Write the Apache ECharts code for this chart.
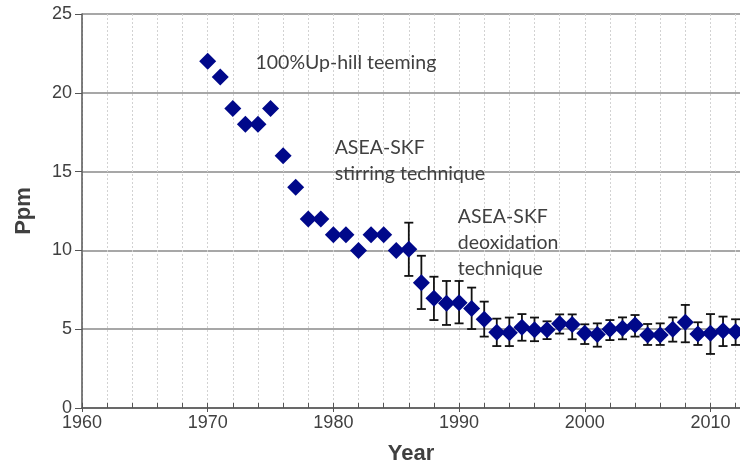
<!DOCTYPE html>
<html>
<head>
<meta charset="utf-8">
<script src="https://cdn.jsdelivr.net/npm/echarts@6/dist/echarts.min.js"></script>
<style>
html,body{margin:0;padding:0;background:#fff;}
#chart{width:740px;height:466px;}
</style>
</head>
<body>
<div id="chart"></div>
<script>
// ---- data ----
const years = [1970,1971,1972,1973,1974,1975,1976,1977,1978,1979,1980,1981,1982,1983,1984,1985,
  1986,1987,1988,1989,1990,1991,1992,1993,1994,1995,1996,1997,1998,1999,2000,2001,2002,2003,2004,
  2005,2006,2007,2008,2009,2010,2011,2012];
const ppm = [22,21,19,18,18,19,16,14,12,12,11,11,10,11,11,10,
  10.07,7.95,6.96,6.64,6.68,6.32,5.63,4.8,4.78,5.12,4.97,4.97,5.35,5.3,4.74,4.67,5.0,5.06,5.27,
  4.63,4.63,4.99,5.44,4.7,4.74,4.9,4.84];
const errLow = [null,null,null,null,null,null,null,null,null,null,null,null,null,null,null,null,
  8.38,6.28,5.58,5.27,5.37,5.01,4.53,3.93,3.93,4.27,4.24,4.37,4.72,4.36,4.06,3.89,4.31,4.36,4.53,
  4.0,4.0,4.21,4.17,4.0,3.43,3.93,4.0];
const errHigh = [null,null,null,null,null,null,null,null,null,null,null,null,null,null,null,null,
  11.76,9.66,8.33,8.06,8.06,7.64,6.75,5.67,5.74,5.96,5.74,5.5,5.94,5.94,5.31,5.37,5.58,5.75,5.9,
  5.33,5.37,5.75,6.54,5.44,5.96,5.8,5.63];
const yTicks = [0,5,10,15,20,25];
const xLabelYears = [1960,1970,1980,1990,2000,2010];
const notes = [
  {lines:['100%Up-hill teeming'], at:[1973.8, 22]},
  {lines:['ASEA-SKF','stirring technique'], at:[1980.1, 16.6]},
  {lines:['ASEA-SKF','deoxidation','technique'], at:[1989.9, 12.2]}
];

const chart = echarts.init(document.getElementById('chart'), null, {renderer:'canvas'});
const grid = {left:82, top:14, right:0, bottom:58, outerBoundsMode:'none', containLabel:false};
const errData = [];
years.forEach((y,i)=>{ if(errLow[i]!=null) errData.push([y, errLow[i], errHigh[i]]); });
const scatterData = years.map((y,i)=>[y, ppm[i]]);
const labelColor = '#404040';

chart.setOption({
  animation:false,
  backgroundColor:'#fff',
  grid: grid,
  xAxis:[{
    type:'value', min:1960, max:2012.35, interval:2,
    name:'Year', nameLocation:'middle', nameGap:35,
    nameTextStyle:{fontFamily:'Liberation Sans', fontWeight:'bold', fontSize:22, color:labelColor},
    axisLine:{show:true, onZero:false, lineStyle:{color:'#555', width:1.5}},
    axisTick:{show:true, inside:true, length:5, lineStyle:{color:'#555', width:1}},
    axisLabel:{show:true, showMaxLabel:false, margin:6, fontFamily:'Liberation Sans', fontSize:18, color:labelColor,
      formatter:function(v){ return xLabelYears.indexOf(Math.round(v))>=0 && Math.abs(v-Math.round(v))<1e-6 ? String(Math.round(v)) : ''; }},
    splitLine:{show:true, lineStyle:{color:'#d2d2d2', type:[2,2], width:1}}
  },{
    type:'value', min:1960, max:2012.35, interval:10, position:'bottom', offset:0,
    axisLine:{show:false}, axisLabel:{show:false}, splitLine:{show:false},
    axisTick:{show:true, inside:false, length:4, lineStyle:{color:'#555', width:1}}
  }],
  yAxis:{
    type:'value', min:yTicks[0], max:yTicks[yTicks.length-1], interval:5,
    name:'Ppm', nameLocation:'middle', nameGap:47, nameRotate:90,
    nameTextStyle:{fontFamily:'Liberation Sans', fontWeight:'bold', fontSize:22, color:labelColor},
    axisLine:{show:true, lineStyle:{color:'#555', width:1.5}},
    axisTick:{show:true, inside:false, length:7, lineStyle:{color:'#555', width:1}},
    axisLabel:{margin:10, fontFamily:'Liberation Sans', fontSize:18, color:labelColor},
    splitLine:{show:true, lineStyle:{color:'#8a8a8a', width:1.5}}
  },
  series:[{
    type:'custom', z:2,
    data: errData,
    encode:{x:0, y:[1,2]},
    renderItem:function(params, api){
      const x = api.value(0), lo = api.value(1), hi = api.value(2);
      const pt = api.coord([x, hi]), pb = api.coord([x, lo]);
      const w = 4.5;
      const st = {stroke:'#111', lineWidth:1.8};
      return {type:'group', children:[
        {type:'line', shape:{x1:pt[0], y1:pt[1], x2:pb[0], y2:pb[1]}, style:st},
        {type:'line', shape:{x1:pt[0]-w, y1:pt[1], x2:pt[0]+w, y2:pt[1]}, style:st},
        {type:'line', shape:{x1:pb[0]-w, y1:pb[1], x2:pb[0]+w, y2:pb[1]}, style:st}
      ]};
    }
  },{
    type:'scatter', z:5, symbol:'diamond', symbolSize:[17,17],
    itemStyle:{color:'#00088a', opacity:1},
    data: scatterData
  }]
});

// annotations anchored in data space
const graphics = [];
notes.forEach(n=>{
  const p = chart.convertToPixel({gridIndex:0}, n.at);
  graphics.push({type:'text', left:p[0], top:p[1]-12, silent:true,
    style:{text:n.lines.join('\n'), font:'19.5px Lato', fill:'#404040', lineHeight:26}});
});
chart.setOption({graphic:graphics});
</script>
</body>
</html>
